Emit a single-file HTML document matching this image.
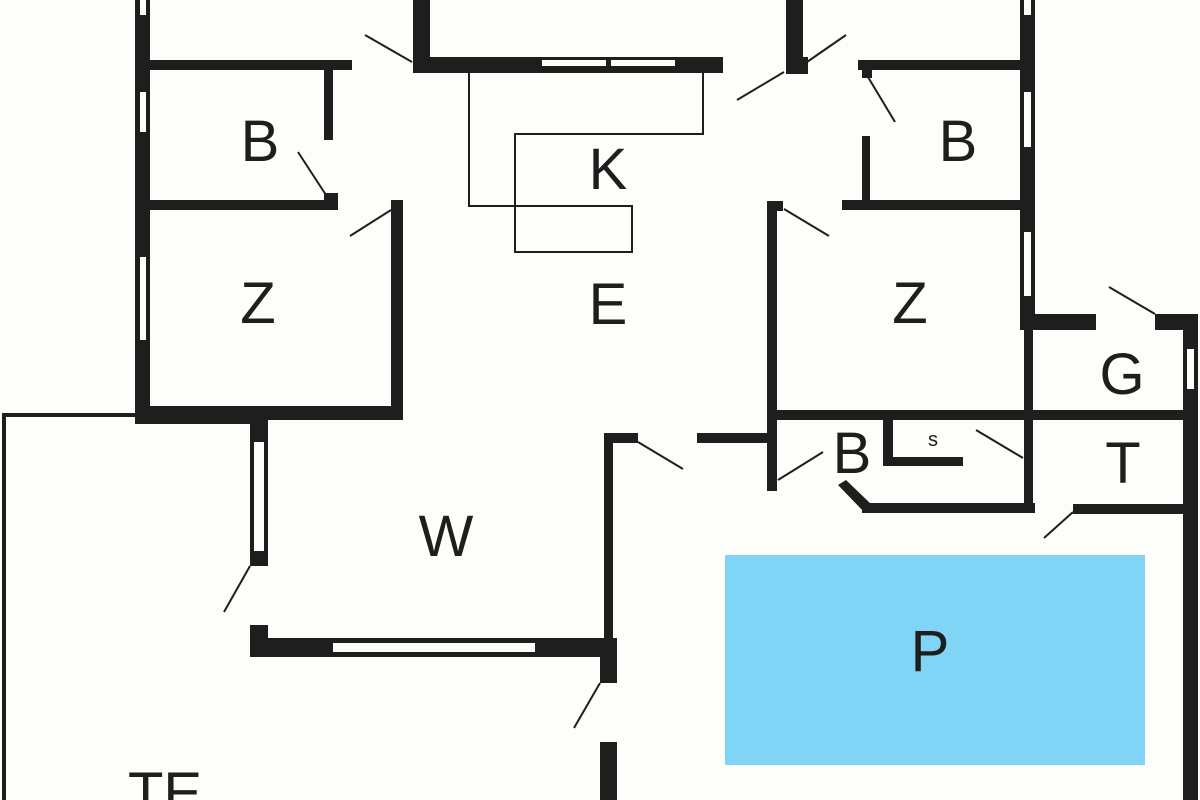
<!DOCTYPE html>
<html><head><meta charset="utf-8"><style>
html,body{margin:0;padding:0;background:#fdfdf9;}
svg{display:block;}
text{font-family:"Liberation Sans",sans-serif;fill:#1e1e1e;text-anchor:middle;}
</style></head><body>
<svg width="1200" height="800" viewBox="0 0 1200 800" xmlns="http://www.w3.org/2000/svg">
<rect width="1200" height="800" fill="#fdfdf9"/>
<!-- pool -->
<rect x="725" y="555" width="420" height="210" fill="#80d4f6"/>
<g fill="#1e1e1e">
<!-- left outer -->
<rect x="135" y="0" width="15" height="422"/>
<!-- B left walls -->
<rect x="150" y="60" width="202" height="10"/>
<rect x="324" y="70" width="9" height="70"/>
<rect x="324" y="193" width="14" height="8"/>
<rect x="150" y="200" width="188" height="10"/>
<rect x="391" y="200" width="12" height="220"/>
<rect x="135" y="406" width="268" height="14"/>
<rect x="135" y="406" width="133" height="18"/>
<!-- kitchen top -->
<rect x="413" y="0" width="17" height="73"/>
<rect x="413" y="57" width="310" height="16"/>
<rect x="786" y="0" width="17" height="74"/>
<rect x="786" y="57" width="22" height="17"/>
<!-- right upper -->
<rect x="858" y="60" width="165" height="10"/>
<rect x="1020" y="0" width="15" height="330"/>
<rect x="862" y="60" width="10" height="18"/>
<rect x="862" y="136" width="8" height="72"/>
<rect x="842" y="200" width="180" height="10"/>
<rect x="767" y="201" width="10" height="290"/>
<rect x="767" y="201" width="16" height="10"/>
<!-- G -->
<rect x="1020" y="314" width="76" height="16"/>
<rect x="1155" y="314" width="30" height="16"/>
<rect x="1183" y="314" width="15" height="486"/>
<rect x="1024" y="330" width="9" height="183"/>
<rect x="767" y="410" width="416" height="10"/>
<rect x="1073" y="504" width="110" height="10"/>
<!-- bath -->
<rect x="883" y="420" width="10" height="46"/>
<rect x="883" y="457" width="80" height="9"/>
<rect x="862" y="503" width="173" height="10"/>
<polygon points="838,485 846,480 872,505 865,513"/>
<!-- hallway -->
<rect x="697" y="433" width="70" height="10"/>
<rect x="604" y="433" width="34" height="10"/>
<rect x="604" y="433" width="9" height="210"/>
<rect x="600" y="638" width="17" height="45"/>
<rect x="600" y="742" width="17" height="58"/>
<!-- W -->
<rect x="250" y="638" width="367" height="19"/>
<rect x="250" y="407" width="18" height="159"/>
<rect x="250" y="625" width="18" height="32"/>
<!-- TE outline -->
<rect x="2" y="413" width="133" height="4"/>
<rect x="2" y="413" width="4" height="387"/>
</g>
<!-- windows -->
<g fill="#fdfdf9">
<rect x="140" y="0" width="6" height="15"/>
<rect x="140" y="92" width="6" height="40"/>
<rect x="140" y="257" width="6" height="83"/>
<rect x="542" y="60" width="64" height="6"/>
<rect x="611" y="60" width="64" height="6"/>
<rect x="1024" y="0" width="7" height="15"/>
<rect x="1024" y="92" width="7" height="55"/>
<rect x="1024" y="232" width="7" height="64"/>
<rect x="1187" y="349" width="7" height="40"/>
<rect x="254" y="442" width="10" height="109"/>
<rect x="333" y="643" width="202" height="9"/>
</g>
<!-- kitchen counters -->
<g fill="none" stroke="#1e1e1e" stroke-width="2">
<polyline points="469,73 469,206 632,206 632,252 515,252 515,134 703,134 703,73"/>
</g>
<!-- door swings -->
<g stroke="#1e1e1e" stroke-width="2">
<line x1="365" y1="35" x2="412" y2="62"/>
<line x1="298" y1="152" x2="326" y2="195"/>
<line x1="350" y1="236" x2="391" y2="210"/>
<line x1="737" y1="100" x2="784" y2="72"/>
<line x1="807" y1="62" x2="846" y2="35"/>
<line x1="868" y1="77" x2="895" y2="122"/>
<line x1="784" y1="209" x2="829" y2="236"/>
<line x1="1109" y1="287" x2="1155" y2="314"/>
<line x1="1044" y1="538" x2="1073" y2="512"/>
<line x1="778" y1="480" x2="823" y2="452"/>
<line x1="976" y1="430" x2="1023" y2="458"/>
<line x1="638" y1="442" x2="683" y2="469"/>
<line x1="574" y1="728" x2="600" y2="683"/>
<line x1="224" y1="612" x2="250" y2="566"/>
</g>
<g font-size="58">
<text x="260" y="161">B</text>
<text x="608" y="189">K</text>
<text x="608" y="324">E</text>
<text x="258" y="323">Z</text>
<text x="910" y="323">Z</text>
<text x="958" y="161">B</text>
<text x="1122" y="394">G</text>
<text x="852" y="473">B</text>
<text x="1123" y="483">T</text>
<text x="446" y="556">W</text>
<text x="930" y="671">P</text>
<text x="165" y="813">TE</text>
</g>
<text x="933" y="446" font-size="20">s</text>
</svg>
</body></html>
